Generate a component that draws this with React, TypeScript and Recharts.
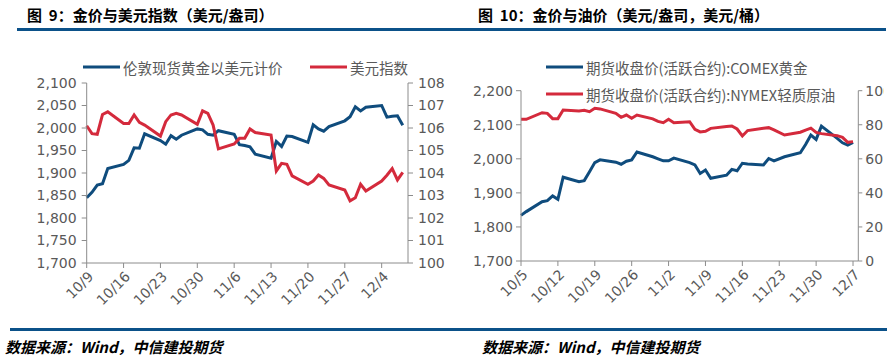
import React from 'react';
import { LineChart, Line, XAxis, YAxis } from 'recharts';

// left chart: London spot gold vs dollar index
const leftDates = [
  '10/9', '10/10', '10/11', '10/12', '10/13', '10/16', '10/17', '10/18', '10/19', '10/20',
  '10/23', '10/24', '10/25', '10/26', '10/27', '10/30', '10/31', '11/1', '11/2', '11/3',
  '11/6', '11/7', '11/8', '11/9', '11/10', '11/13', '11/14', '11/15', '11/16', '11/17',
  '11/20', '11/21', '11/22', '11/23', '11/24', '11/27', '11/28', '11/29', '11/30', '12/1',
  '12/4', '12/5', '12/6', '12/7', '12/8',
];
const londonGold = [
  1845, 1857, 1873, 1876, 1910, 1919, 1928, 1956, 1955, 1987,
  1972, 1964, 1983, 1975, 1984, 1998, 1996, 1986, 1984, 1994,
  1986, 1963, 1961, 1958, 1942, 1933, 1970, 1959, 1982, 1981,
  1968, 2007, 1998, 1993, 2003, 2016, 2025, 2047, 2038, 2046,
  2050, 2024, 2026, 2027, 2006,
];
const dollarIndex = [
  106.1, 105.75, 105.72, 106.6, 106.72, 106.2, 106.2, 106.58, 106.25, 106.13,
  105.64, 106.28, 106.58, 106.65, 106.58, 106.16, 106.76, 106.65, 106.13, 105.07,
  105.29, 105.54, 105.54, 105.96, 105.8, 105.69, 104.09, 104.43, 104.39, 103.87,
  103.5, 103.64, 103.91, 103.76, 103.47, 103.24, 102.76, 102.9, 103.5, 103.2,
  103.64, 103.9, 104.2, 103.69, 104.03,
];
const leftTicks = ['10/9', '10/16', '10/23', '10/30', '11/6', '11/13', '11/20', '11/27', '12/4'];

// right chart: COMEX gold vs NYMEX crude
const rightDates = [
  '10/5', '10/6', '10/9', '10/10', '10/11', '10/12', '10/13', '10/16', '10/17', '10/18',
  '10/19', '10/20', '10/23', '10/24', '10/25', '10/26', '10/27', '10/30', '10/31', '11/1',
  '11/2', '11/3', '11/6', '11/7', '11/8', '11/9', '11/10', '11/13', '11/14', '11/15',
  '11/16', '11/17', '11/20', '11/21', '11/22', '11/24', '11/27', '11/28', '11/29', '11/30',
  '12/1', '12/4', '12/5', '12/6', '12/7',
];
const comexGold = [
  1834, 1845, 1874, 1877, 1891, 1881, 1946, 1933, 1936, 1962,
  1989, 1997, 1990, 1984, 1993, 1997, 2020, 2006, 2000, 1994,
  1994, 2002, 1989, 1982, 1957, 1967, 1943, 1952, 1969, 1965,
  1987, 1985, 1982, 2001, 1994, 2006, 2018, 2042, 2070, 2057,
  2096, 2060, 2047, 2040, 2048,
];
const nymexOil = [
  83.2, 83.2, 87.1, 86.7, 83.6, 83.6, 88.7, 88.1, 88.5, 87.7,
  89.7, 89.3, 86.7, 84.4, 85.7, 83.8, 85.7, 83.5, 82.0, 81.2,
  83.2, 81.2, 81.8, 77.3, 75.8, 76.2, 77.9, 79.0, 79.3, 77.5,
  73.4, 76.6, 77.9, 78.3, 77.0, 74.0, 75.6, 76.9, 78.0, 75.5,
  74.8, 73.6, 72.6, 69.7, 70.1,
];
const rightTicks = ['10/5', '10/12', '10/19', '10/26', '11/2', '11/9', '11/16', '11/23', '11/30', '12/7'];

const BLUE = '#0F4C7D';
const RED = '#D42A3C';
const GREY = '#595959';
const AXIS = '#8C8C8C';
const TICK_FONT = 'DejaVu Sans, sans-serif';
const CJK_FONT = '"Noto Sans CJK SC", sans-serif';

const toDay = (label: string, start: string) => {
  const [m, d] = label.split('/').map(Number);
  const [sm, sd] = start.split('/').map(Number);
  return Math.round((Date.UTC(2023, m - 1, d) - Date.UTC(2023, sm - 1, sd)) / 86400000);
};

const leftData = leftDates.map((d, i) => ({
  day: toDay(d, leftDates[0]),
  gold: londonGold[i],
  dxy: dollarIndex[i],
}));
const rightData = rightDates.map((d, i) => ({
  day: toDay(d, rightDates[0]),
  gold: comexGold[i],
  oil: nymexOil[i],
}));

const DateTick = (props: any) => {
  const { x, y, payload, labels, start } = props;
  const label = labels.find((l: string) => toDay(l, start) === payload.value) || '';
  const tx = x + 4;
  const ty = y + 4;
  return (
    <text
      x={tx}
      y={ty}
      transform={`rotate(-45, ${tx}, ${ty})`}
      textAnchor="end"
      dominantBaseline="central"
      fontSize={14}
      fontFamily={TICK_FONT}
      fill={GREY}
    >
      {label}
    </text>
  );
};

const LegendItem = ({ x, y, color, text }: { x: number; y: number; color: string; text: string }) => (
  <div style={{ position: 'absolute', left: x, top: y - 10, height: 20, display: 'flex', alignItems: 'center', whiteSpace: 'nowrap' }}>
    <svg width={37} height={6} style={{ display: 'block' }}>
      <line x1={0} y1={3} x2={37} y2={3} stroke={color} strokeWidth={3} />
    </svg>
    <span style={{ marginLeft: 3, fontSize: 14.5, color: GREY, fontFamily: CJK_FONT }}>{text}</span>
  </div>
);

const titleStyle: React.CSSProperties = {
  position: 'absolute',
  top: 4,
  fontSize: 15,
  fontWeight: 'bold',
  color: '#000',
  fontFamily: CJK_FONT,
  whiteSpace: 'nowrap',
};

const footStyle: React.CSSProperties = {
  position: 'absolute',
  top: 336,
  fontSize: 15,
  fontWeight: 'bold',
  fontStyle: 'italic',
  color: '#000',
  fontFamily: CJK_FONT,
  whiteSpace: 'nowrap',
};

const tickStyle = { fontSize: 14, fontFamily: TICK_FONT, fill: GREY };

export default function App() {
  return (
    <div style={{ position: 'fixed', left: 0, top: 0, width: 895, height: 358, background: '#fff', overflow: 'hidden' }}>
      {/* titles */}
      <div style={{ ...titleStyle, left: 27 }}>图&nbsp; 9：金价与美元指数（美元/盎司）</div>
      <div style={{ position: 'absolute', left: 17, top: 28, width: 433, height: 3, background: '#0B5189' }} />
      <div style={{ ...titleStyle, left: 478 }}>图&nbsp; 10：金价与油价（美元/盎司，美元/桶）</div>
      <div style={{ position: 'absolute', left: 450, top: 28, width: 436, height: 3, background: '#0B5189' }} />

      {/* left chart */}
      <div style={{ position: 'absolute', left: 0, top: 0, width: 450, height: 320 }}>
        <LineChart width={450} height={320} data={leftData} margin={{ top: 83, right: 2, bottom: 17, left: 26.7 }}>
          <XAxis
            type="number"
            dataKey="day"
            domain={[0, 61]}
            ticks={leftTicks.map((t) => toDay(t, leftDates[0]))}
            height={40}
            stroke={AXIS}
            tickSize={5}
            interval={0}
            tick={<DateTick labels={leftTicks} start={leftDates[0]} />}
          />
          <YAxis
            yAxisId="left"
            domain={[1700, 2100]}
            ticks={[1700, 1750, 1800, 1850, 1900, 1950, 2000, 2050, 2100]}
            width={60}
            stroke={AXIS}
            tickSize={5}
            tickMargin={5}
            tick={tickStyle}
            tickFormatter={(v: number) => v.toLocaleString('en-US')}
            interval={0}
          />
          <YAxis
            yAxisId="right"
            orientation="right"
            domain={[100, 108]}
            ticks={[100, 101, 102, 103, 104, 105, 106, 107, 108]}
            width={40}
            stroke={AXIS}
            tickSize={5}
            tickMargin={5}
            tick={tickStyle}
            interval={0}
          />
          <Line yAxisId="left" type="linear" dataKey="gold" stroke={BLUE} strokeWidth={3} dot={false} isAnimationActive={false} />
          <Line yAxisId="right" type="linear" dataKey="dxy" stroke={RED} strokeWidth={3} dot={false} isAnimationActive={false} />
        </LineChart>
        <LegendItem x={83} y={67} color={BLUE} text="伦敦现货黄金以美元计价" />
        <LegendItem x={310} y={67} color={RED} text="美元指数" />
      </div>

      {/* right chart, clipped at its right edge like the original */}
      <div style={{ position: 'absolute', left: 450, top: 0, width: 434, height: 320, overflow: 'hidden' }}>
        <LineChart width={445} height={320} data={rightData} margin={{ top: 90.7, right: 0.7, bottom: 19, left: 11 }}>
          <XAxis
            type="number"
            dataKey="day"
            domain={[0, 64]}
            ticks={rightTicks.map((t) => toDay(t, rightDates[0]))}
            height={40}
            stroke={AXIS}
            tickSize={5}
            interval={0}
            tick={<DateTick labels={rightTicks} start={rightDates[0]} />}
          />
          <YAxis
            yAxisId="left"
            domain={[1700, 2200]}
            ticks={[1700, 1800, 1900, 2000, 2100, 2200]}
            width={60}
            stroke={AXIS}
            tickSize={5}
            tickMargin={3}
            tick={tickStyle}
            tickFormatter={(v: number) => v.toLocaleString('en-US')}
            interval={0}
          />
          <YAxis
            yAxisId="right"
            orientation="right"
            domain={[0, 100]}
            ticks={[0, 20, 40, 60, 80, 100]}
            width={36}
            stroke={AXIS}
            tickSize={4}
            tickMargin={3}
            tick={tickStyle}
            interval={0}
          />
          <Line yAxisId="left" type="linear" dataKey="gold" stroke={BLUE} strokeWidth={3} dot={false} isAnimationActive={false} />
          <Line yAxisId="right" type="linear" dataKey="oil" stroke={RED} strokeWidth={3} dot={false} isAnimationActive={false} />
        </LineChart>
        <LegendItem x={96} y={67} color={BLUE} text="期货收盘价(活跃合约):COMEX黄金" />
        <LegendItem x={96} y={94} color={RED} text="期货收盘价(活跃合约):NYMEX轻质原油" />
      </div>

      {/* source */}
      <div style={{ position: 'absolute', left: 10, top: 328, width: 877, height: 3, background: '#0B5189' }} />
      <div style={{ ...footStyle, left: 5 }}>数据来源：Wind，中信建投期货</div>
      <div style={{ ...footStyle, left: 482 }}>数据来源：Wind，中信建投期货</div>
    </div>
  );
}
